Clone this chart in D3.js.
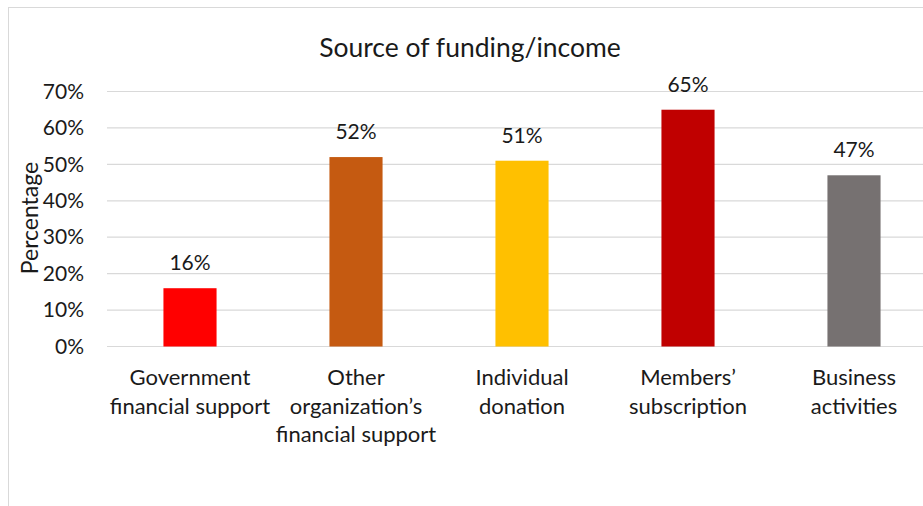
<!DOCTYPE html>
<html>
<head>
<meta charset="utf-8">
<script src="https://cdn.jsdelivr.net/npm/d3@7"></script>
<style>
  html, body { margin: 0; padding: 0; background: #fff; }
  svg { display: block; font-family: "Lato", "Open Sans", sans-serif; }
</style>
</head>
<body>
<svg id="chart" width="923" height="506"></svg>
<script>
// Share of organisations reporting each source of funding/income
const categories = [
  ["Government", "financial support"],
  ["Other", "organization\u2019s", "financial support"],
  ["Individual", "donation"],
  ["Members\u2019", "subscription"],
  ["Business", "activities"]
];
const values = [0.16, 0.52, 0.51, 0.65, 0.47];
const barColors = ["#FF0000", "#C55A11", "#FFC000", "#C00000", "#767171"];
const yTicks = [0, 0.1, 0.2, 0.3, 0.4, 0.5, 0.6, 0.7];
const title = "Source of funding/income";
const yTitle = "Percentage";

const svg = d3.select("#chart");
const plot = { left: 107, right: 937, top: 91.5, bottom: 346.5 };
const textColor = "#1a1a1a";

// chart frame
svg.append("rect")
  .attr("x", 8.5).attr("y", 7.5)
  .attr("width", 1000).attr("height", 1000)
  .attr("fill", "#fff").attr("stroke", "#D9D9D9").attr("stroke-width", 1);

const x = d3.scaleBand()
  .domain(d3.range(categories.length))
  .range([plot.left, plot.right])
  .paddingInner(0.68).paddingOuter(0.34);

const y = d3.scaleLinear().domain([0, 0.7]).range([plot.bottom, plot.top]);

// gridlines
svg.append("g")
  .selectAll("line")
  .data(yTicks)
  .join("line")
  .attr("x1", plot.left).attr("x2", plot.right)
  .attr("y1", d => y(d)).attr("y2", d => y(d))
  .attr("stroke", "#D9D9D9").attr("stroke-width", 1.2);

// y axis labels
const yAxis = d3.axisLeft(y).tickValues(yTicks).tickFormat(d3.format(".0%")).tickSize(0).tickPadding(0);
const gy = svg.append("g").attr("transform", `translate(${plot.left - 23},0)`).call(yAxis);
gy.select(".domain").remove();
gy.selectAll("text")
  .attr("font-family", "Lato, 'Open Sans', sans-serif")
  .attr("font-size", 21).attr("fill", textColor);

// bars
svg.append("g")
  .selectAll("rect")
  .data(values)
  .join("rect")
  .attr("x", (d, i) => x(i))
  .attr("width", x.bandwidth())
  .attr("y", d => y(d))
  .attr("height", d => y(0) - y(d))
  .attr("fill", (d, i) => barColors[i]);

// value labels
svg.append("g")
  .selectAll("text")
  .data(values)
  .join("text")
  .attr("x", (d, i) => x(i) + x.bandwidth() / 2)
  .attr("y", d => y(d) - 18)
  .attr("text-anchor", "middle")
  .attr("font-size", 21).attr("fill", textColor)
  .text(d => d3.format(".0%")(d));

// category labels
const cat = svg.append("g")
  .selectAll("text")
  .data(categories)
  .join("text")
  .attr("text-anchor", "middle")
  .attr("font-size", 22).attr("fill", textColor)
  .attr("transform", (d, i) => `translate(${x(i) + x.bandwidth() / 2},385)`);
cat.selectAll("tspan")
  .data(d => d)
  .join("tspan")
  .attr("x", 0)
  .attr("y", (d, j) => j * 28.5)
  .text(d => d);

// title
svg.append("text")
  .attr("x", 470).attr("y", 57)
  .attr("text-anchor", "middle")
  .attr("font-size", 26.5).attr("fill", textColor)
  .text(title);

// y axis title
svg.append("text")
  .attr("transform", "translate(38,218) rotate(-90)")
  .attr("text-anchor", "middle")
  .attr("font-size", 23).attr("fill", textColor)
  .text(yTitle);
</script>
</body>
</html>
